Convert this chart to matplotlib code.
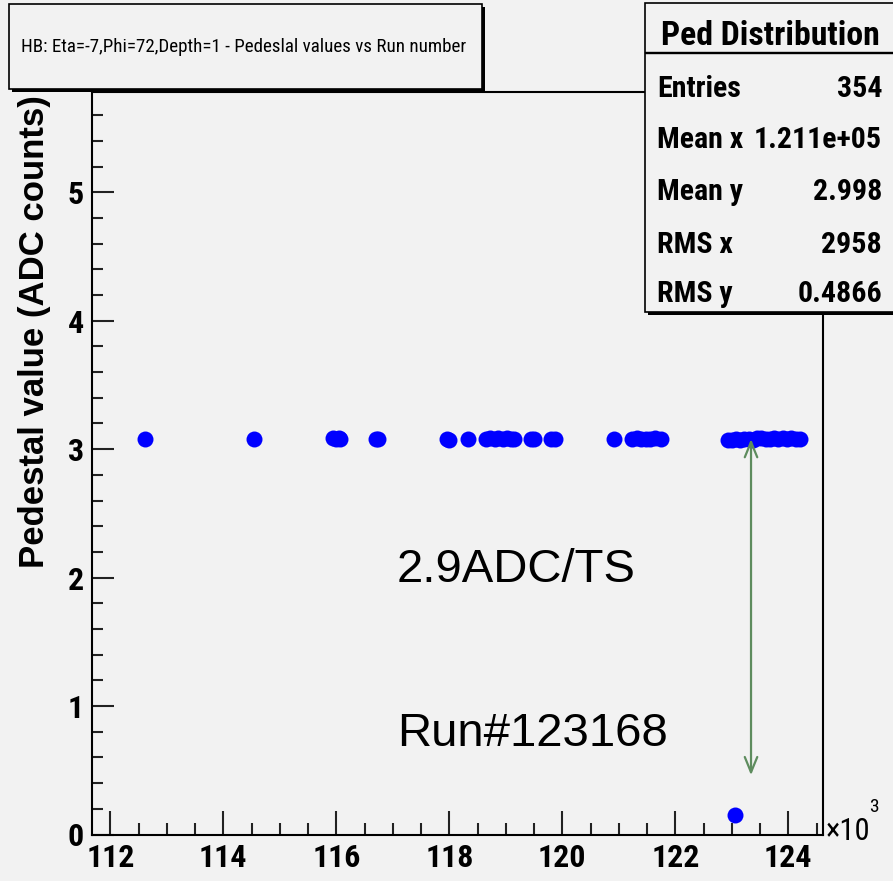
import numpy as np
import matplotlib
matplotlib.use("Agg")
from matplotlib import pyplot as plt
from matplotlib import font_manager as fm
from matplotlib.patches import Rectangle
from matplotlib.ticker import MultipleLocator

# run numbers of the measurements (pedestal stays ~3.08, one bad run)
runs = [112620, 114540,
        115950, 116000, 116040, 116070, 116700, 116740,
        117960, 118000, 118330,
        118650, 118720, 118800, 118870, 118950, 119020, 119090, 119150,
        119450, 119500, 119800, 119870,
        120920, 121240, 121320, 121400, 121480, 121560, 121640, 121750,
        122940, 123000, 123080, 123150, 123220, 123300, 123380, 123450,
        123520, 123600, 123680, 123750, 123820, 123900, 123970, 124050,
        124130, 124210,
        123050]
peds = [3.08, 3.08,
        3.09, 3.08, 3.09, 3.08, 3.08, 3.08,
        3.08, 3.07, 3.08,
        3.08, 3.09, 3.08, 3.09, 3.08, 3.09, 3.08, 3.08,
        3.08, 3.08, 3.08, 3.08,
        3.08, 3.08, 3.09, 3.08, 3.08, 3.08, 3.09, 3.08,
        3.07, 3.07, 3.08, 3.07, 3.08, 3.08, 3.07, 3.09,
        3.09, 3.08, 3.08, 3.09, 3.08, 3.09, 3.08, 3.09,
        3.08, 3.08,
        0.15]

stat_names = ["Entries", "Mean x", "Mean y", "RMS x", "RMS y"]
stat_values = ["354", "1.211e+05", "2.998", "2958", "0.4866"]

xticks = [112, 114, 116, 118, 120, 122, 124]
yticks = [0, 1, 2, 3, 4, 5]

W, H = 893, 881
BG = "#f2f2f2"
wide = ["Liberation Sans", "DejaVu Sans"]

# look for a narrow sans (ROOT look); otherwise shrink Liberation Sans
narrow_family = None
for cand in ["Liberation Sans Narrow", "Arial Narrow", "Roboto Condensed", "Noto Sans Condensed"]:
    if any(f.name == cand for f in fm.fontManager.ttflist):
        narrow_family = cand
        break
if narrow_family:
    narrow = [narrow_family, "Liberation Sans"]
    k = 1.0
else:
    narrow = wide
    k = 0.82


def nfont(size, bold=False):
    return dict(family=narrow, fontsize=size * k, fontweight="bold" if bold else "normal")


fig = plt.figure(figsize=(W / 100, H / 100), dpi=100, facecolor=BG)
ax = fig.add_axes([92 / W, 1 - 834.5 / H, (823 - 92) / W, (834.5 - 92) / H])
ax.set_facecolor(BG)

ax.plot(np.array(runs) / 1000.0, peds, "o", color="#0000ff", ms=11.5, mec="none")

ax.set_xlim(111.676, 124.614)
ax.set_ylim(0, 5.78)
ax.set_xticks(xticks)
ax.set_xticklabels([str(t) for t in xticks], **nfont(23, True))
ax.set_yticks(yticks)
ax.set_yticklabels([str(t) for t in yticks], **nfont(23, True))
ax.xaxis.set_minor_locator(MultipleLocator(0.5))
ax.yaxis.set_minor_locator(MultipleLocator(0.2))
ax.tick_params(which="both", direction="in", top=False, right=False, width=1.5, color="#222222")
ax.tick_params(axis="x", which="major", length=17, pad=6)
ax.tick_params(axis="x", which="minor", length=9)
ax.tick_params(axis="y", which="major", length=16, pad=6)
ax.tick_params(axis="y", which="minor", length=8)
for s in ax.spines.values():
    s.set_linewidth(1.5)

ax.set_ylabel("Pedestal value (ADC counts)", family=wide, fontweight="bold", fontsize=25, loc="top")
ax.yaxis.set_label_coords(-0.056, 0.996)

# annotation
ax.annotate("", xy=(123.34, 0.44), xytext=(123.34, 3.10),
            arrowprops=dict(arrowstyle="<->,head_length=1.1,head_width=0.45", color="#5e8c5e", lw=1.6))
fig.text(397 / W, 1 - 582 / H, "2.9ADC/TS", family=wide, fontsize=34, va="baseline")
fig.text(397 / W, 1 - 746 / H, "Run#123168", family=wide, fontsize=34, va="baseline")

fig.text(826 / W, 1 - 840 / H, "×10", va="baseline", **nfont(22))
fig.text(869 / W, 1 - 812 / H, "3", va="baseline", **nfont(14))


def px_rect(x0, y0, x1, y1, **kw):
    r = Rectangle((x0 / W, 1 - y1 / H), (x1 - x0) / W, (y1 - y0) / H,
                  transform=fig.transFigure, **kw)
    fig.patches.append(r)


# title box
px_rect(12, 7, 485, 92, facecolor="black", edgecolor="none")
px_rect(9, 4, 482, 89, facecolor=BG, edgecolor="black", lw=1.2)
fig.text(244 / W, 1 - 47 / H, "HB: Eta=-7,Phi=72,Depth=1 - Pedeslal values vs Run number",
         ha="center", va="center", **nfont(13.7))

# stats box
px_rect(648, 6, 905, 315, facecolor="black", edgecolor="none")
px_rect(645, 3, 902, 312, facecolor=BG, edgecolor="black", lw=1.2)
px_rect(645, 52, 902, 52.5, facecolor="black", edgecolor="black", lw=1.0)
fig.text(770 / W, 1 - 45 / H, "Ped Distribution", ha="center", va="baseline", **nfont(24.3, True))
row_base = [97, 148, 200, 253, 302]
for name, val, yb in zip(stat_names, stat_values, row_base):
    fig.text(657 / W, 1 - yb / H, name, va="baseline", **nfont(21.5, True))
    fig.text(882 / W, 1 - yb / H, val, ha="right", va="baseline", **nfont(21.5, True))

fig.savefig("out.png", dpi=100, facecolor=BG)
